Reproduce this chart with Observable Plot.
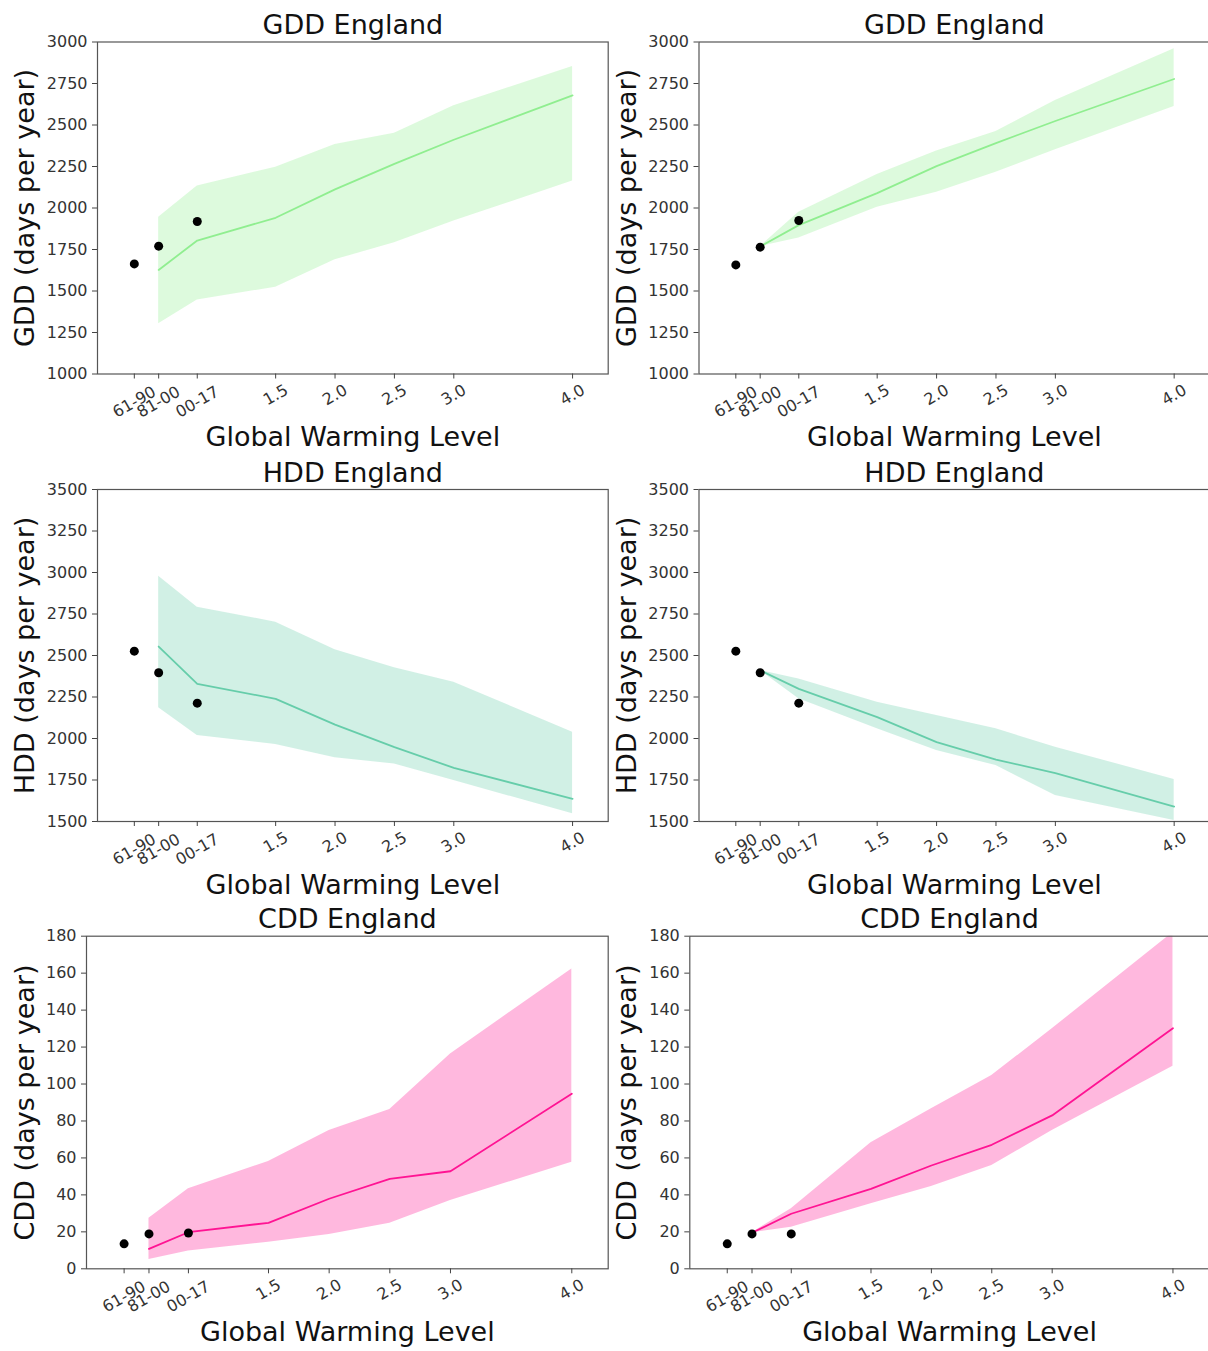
<!DOCTYPE html>
<html><head><meta charset="utf-8">
<script src="https://cdn.jsdelivr.net/npm/d3@7"></script>
<script src="https://cdn.jsdelivr.net/npm/@observablehq/plot@0.6"></script>
<style>
html,body{margin:0;padding:0;background:#fff;overflow:hidden;}
#page{position:relative;width:1208px;height:1351px;overflow:hidden;background:#fff;}
.panel{position:absolute;}
</style></head><body><div id="page"></div>
<script>
// ---- data ----
const tickLabels = ["61-90", "81-00", "00-17", "1.5", "2.0", "2.5", "3.0", "4.0"];
const tickPositions = [0.31, 0.515, 0.84, 1.5, 2.0, 2.5, 3.0, 4.0];
const obsX = [0.31, 0.515, 0.84];
const modelX = [0.515, 0.84, 1.5, 2.0, 2.5, 3.0, 4.0];

const gddTicks = [1000, 1250, 1500, 1750, 2000, 2250, 2500, 2750, 3000];
const hddTicks = [1500, 1750, 2000, 2250, 2500, 2750, 3000, 3250, 3500];
const cddTicks = [0, 20, 40, 60, 80, 100, 120, 140, 160, 180];

const gddLeftMid = [1627, 1804, 1941, 2112, 2266, 2411, 2678];
const gddLeftHi  = [1945, 2132, 2246, 2383, 2451, 2616, 2853];
const gddLeftLo  = [1302, 1446, 1523, 1688, 1790, 1921, 2162];
const gddLeftObs = [1663, 1770, 1919];

const gddRightMid = [1768, 1897, 2090, 2252, 2391, 2524, 2777];
const gddRightHi  = [1768, 1975, 2202, 2343, 2461, 2648, 2960];
const gddRightLo  = [1768, 1820, 2005, 2095, 2216, 2351, 2612];
const gddRightObs = [1657, 1764, 1925];

const hddLeftMid = [2554, 2329, 2239, 2084, 1948, 1823, 1637];
const hddLeftHi  = [2978, 2791, 2701, 2534, 2426, 2339, 2038];
const hddLeftLo  = [2185, 2018, 1964, 1884, 1847, 1747, 1546];
const hddLeftObs = [2526, 2396, 2213];

const hddRightMid = [2410, 2299, 2129, 1978, 1873, 1791, 1590];
const hddRightHi  = [2410, 2359, 2219, 2139, 2058, 1948, 1753];
const hddRightLo  = [2410, 2239, 2058, 1928, 1837, 1657, 1506];
const hddRightObs = [2526, 2396, 2213];

const cddLeftMid = [10.8, 19.8, 24.9, 37.9, 48.7, 52.8, 94.7];
const cddLeftHi  = [27.4, 43.3, 58.1, 74.8, 86.2, 116.3, 162.3];
const cddLeftLo  = [5.1, 9.6, 14.4, 18.6, 24.7, 37.0, 57.7];
const cddLeftObs = [13.5, 18.9, 19.4];

const cddRightMid = [19.5, 29.8, 43.3, 55.9, 67.1, 83.0, 130.2];
const cddRightHi  = [19.5, 32.5, 68.2, 86.6, 104.6, 129.9, 182];
const cddRightLo  = [19.5, 22.5, 35.2, 44.6, 55.9, 74.8, 109.6];
const cddRightObs = [13.5, 18.9, 18.9];

const titles = ["GDD England", "HDD England", "CDD England"];
const yLabels = ["GDD (days per year)", "HDD (days per year)", "CDD (days per year)"];
const xLabel = "Global Warming Level";

// ---- layout ----
const panels = [
  {title: titles[0], ylab: yLabels[0], ticks: gddTicks, mid: gddLeftMid, hi: gddLeftHi, lo: gddLeftLo, obs: gddLeftObs, color: "#90ee90",
   left: 0, top: 0, width: 612, height: 455, ml: 97, mr: 4.3, mt: 41.5, mb: 81.5, ydx: -64},
  {title: titles[0], ylab: yLabels[0], ticks: gddTicks, mid: gddRightMid, hi: gddRightHi, lo: gddRightLo, obs: gddRightObs, color: "#90ee90",
   left: 600, top: 0, width: 612, height: 455, ml: 98.5, mr: 2.7, mt: 41.5, mb: 81.5, ydx: -63.5},
  {title: titles[1], ylab: yLabels[1], ticks: hddTicks, mid: hddLeftMid, hi: hddLeftHi, lo: hddLeftLo, obs: hddLeftObs, color: "#66cdaa",
   left: 0, top: 450, width: 612, height: 455, ml: 97, mr: 4.3, mt: 39, mb: 84, ydx: -64},
  {title: titles[1], ylab: yLabels[1], ticks: hddTicks, mid: hddRightMid, hi: hddRightHi, lo: hddRightLo, obs: hddRightObs, color: "#66cdaa",
   left: 600, top: 450, width: 612, height: 455, ml: 98.5, mr: 2.7, mt: 39, mb: 84, ydx: -63.5},
  {title: titles[2], ylab: yLabels[2], ticks: cddTicks, mid: cddLeftMid, hi: cddLeftHi, lo: cddLeftLo, obs: cddLeftObs, color: "#ff1493",
   left: 0, top: 897, width: 612, height: 454, ml: 86, mr: 4.3, mt: 38.7, mb: 82.7, ydx: -53},
  {title: titles[2], ylab: yLabels[2], ticks: cddTicks, mid: cddRightMid, hi: cddRightHi, lo: cddRightLo, obs: cddRightObs, color: "#ff1493",
   left: 600, top: 897, width: 612, height: 454, ml: 89.3, mr: 3.3, mt: 38.7, mb: 82.7, ydx: -54.3}
];

const page = document.getElementById("page");
const tickRows = tickPositions.map((x, i) => ({x, label: tickLabels[i]}));
const periodTicks = tickRows.filter(d => d.label.length > 3);
const numTicks = tickRows.filter(d => d.label.length <= 3);

for (const p of panels) {
  const model = modelX.map((x, i) => ({x, mid: p.mid[i], hi: p.hi[i], lo: p.lo[i]}));
  const obs = obsX.map((x, i) => ({x, y: p.obs[i]}));
  const svg = Plot.plot({
    width: p.width, height: p.height,
    marginLeft: p.ml, marginRight: p.mr, marginTop: p.mt, marginBottom: p.mb,
    style: {background: "transparent", overflow: "visible", fontFamily: "DejaVu Sans", fontSize: "16px", color: "#333", maxWidth: "none"},
    x: {domain: [0, 4.3]},
    y: {domain: [p.ticks[0], p.ticks[p.ticks.length - 1]]},
    marks: [
      Plot.areaY(model, {x: "x", y1: "lo", y2: "hi", fill: p.color, fillOpacity: 0.3, clip: true}),
      Plot.lineY(model, {x: "x", y: "mid", stroke: p.color, strokeWidth: 1.8, clip: true}),
      Plot.dot(obs, {x: "x", y: "y", r: 4.5, fill: "black"}),
      Plot.frame({stroke: "#555", strokeWidth: 1.2}),
      Plot.axisY(p.ticks, {tickSize: 5, tickPadding: 5, fontSize: 16, label: null, tickFormat: d => String(d), stroke: "#444"}),
      Plot.axisX(tickPositions, {tickSize: 5, label: null, tickFormat: () => "", stroke: "#444"}),
      Plot.text(numTicks, {x: "x", text: "label", frameAnchor: "bottom", rotate: -30, textAnchor: "middle", lineAnchor: "middle", dy: 21, fontSize: 16, fill: "#333"}),
      Plot.text(periodTicks, {x: "x", text: "label", frameAnchor: "bottom", rotate: -30, textAnchor: "middle", lineAnchor: "middle", dy: 28, fontSize: 16, fill: "#333"}),
      Plot.text([p.title], {text: d => d, frameAnchor: "top", lineAnchor: "bottom", dy: -8, fontSize: 27, fill: "#111"}),
      Plot.text([xLabel], {text: d => d, frameAnchor: "bottom", lineAnchor: "bottom", dy: 72, fontSize: 27, fill: "#111"}),
      Plot.text([p.ylab], {text: d => d, frameAnchor: "left", rotate: -90, lineAnchor: "bottom", textAnchor: "middle", dx: p.ydx, fontSize: 27, fill: "#111"})
    ]
  });
  const div = document.createElement("div");
  div.className = "panel";
  div.style.left = p.left + "px";
  div.style.top = p.top + "px";
  div.appendChild(svg);
  page.appendChild(div);
}
</script>
</body></html>
